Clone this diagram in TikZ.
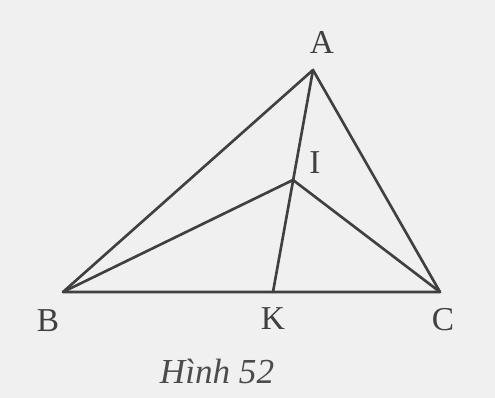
\documentclass[tikz,border=0pt]{standalone}
\usepackage{fontspec}
\setmainfont{Liberation Serif}
\usetikzlibrary{positioning,calc}
\tikzset{
  seg/.style   = {line width=1.5pt, draw=black!75, line cap=round, line join=round},
  lbl/.style   = {font=\fontsize{19}{20}\selectfont, text=black!75, inner sep=0pt},
  capt/.style  = {font=\fontsize{20}{22}\selectfont\itshape, text=black!70, inner sep=0pt},
}
\begin{document}
\begin{tikzpicture}[x=0.02cm,y=0.02cm]
\fill[black!6] (0,0) rectangle (495,398);
\useasboundingbox (0,0) rectangle (495,398);
% points
\coordinate (A) at (313,328);
\coordinate (B) at (63,106);
\coordinate (C) at (440,106);
\coordinate (K) at (273,106);
\coordinate (I) at (293,218);
% triangle and segments
\draw[seg] (A) -- (B) -- (C) -- cycle;
\draw[seg] (A) -- (K);
\draw[seg] (B) -- (I) -- (C);
% labels
\node[lbl] (lA) at (322,356) {A};
\node[lbl] (lI) at (315,235) {I};
\node[lbl] (lB) at (48,77) {B};
\node[lbl] (lK) at (273,79) {K};
\node[lbl] (lC) at (443,78) {C};
\node[capt] (cap) at (217,27) {Hình 52};
\end{tikzpicture}
\end{document}
